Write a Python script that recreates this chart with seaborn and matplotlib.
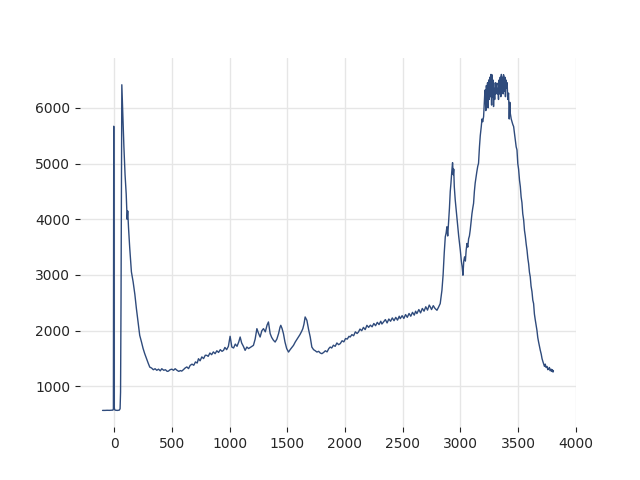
import matplotlib
matplotlib.use("Agg")
import matplotlib.pyplot as plt
import seaborn as sns
import pandas as pd

wavenumber = [
    -100, -80, -60, -40, -20, -10, -6, -3, 1, 6, 15, 30, 45, 52, 56, 60, 67,
    75, 85, 95, 105, 110, 113, 118, 125, 135, 150, 165, 180, 193, 208, 222, 237,
    251, 265, 280, 295, 309, 325, 340, 355, 370, 385, 400, 413, 430, 445, 460,
    471, 485, 500, 515, 529, 545, 560, 575, 586, 600, 615, 630, 645, 659, 675,
    690, 705, 720, 731, 745, 760, 775, 790, 803, 815, 830, 845, 860, 875, 890,
    905, 920, 935, 948, 960, 975, 990, 1005, 1020, 1035, 1050, 1065, 1080, 1092,
    1105, 1120, 1135, 1150, 1165, 1180, 1195, 1207, 1222, 1237, 1250, 1265, 1280,
    1294, 1310, 1325, 1337, 1352, 1365, 1380, 1395, 1410, 1425, 1437, 1444, 1455,
    1467, 1480, 1495, 1511, 1525, 1540, 1554, 1570, 1585, 1597, 1610, 1625, 1635,
    1645, 1655, 1662, 1670, 1685, 1699, 1713, 1728, 1743, 1757, 1772, 1786, 1800,
    1815, 1830, 1845, 1860, 1872, 1885, 1900, 1915, 1930, 1945, 1959, 1975, 1990,
    2005, 2020, 2035, 2045, 2060, 2075, 2090, 2105, 2117, 2130, 2145, 2160, 2175,
    2190, 2205, 2220, 2235, 2250, 2265, 2280, 2295, 2310, 2320, 2334, 2350, 2365,
    2380, 2395, 2410, 2425, 2440, 2455, 2470, 2479, 2495, 2510, 2525, 2540, 2555,
    2570, 2585, 2600, 2612, 2623, 2640, 2655, 2670, 2685, 2700, 2715, 2730, 2739,
    2750, 2765, 2780, 2797, 2810, 2825, 2832, 2840, 2850, 2860, 2869, 2876, 2883,
    2890, 2897, 2905, 2912, 2918, 2925, 2932, 2938, 2942, 2947, 2955, 2962, 2970,
    2978, 2985, 2992, 2999, 3008, 3015, 3022, 3029, 3036, 3043, 3050, 3057, 3064,
    3071, 3078, 3085, 3092, 3100, 3107, 3114, 3121, 3128, 3135, 3142, 3150, 3157,
    3165, 3172, 3180, 3187, 3193, 3201, 3207, 3212, 3216, 3220, 3225, 3230, 3235,
    3240, 3245, 3250, 3255, 3260, 3265, 3270, 3273, 3278, 3282, 3287, 3292, 3297,
    3302, 3307, 3312, 3316, 3320, 3325, 3330, 3335, 3340, 3345, 3350, 3355, 3360,
    3365, 3370, 3374, 3380, 3385, 3390, 3395, 3400, 3405, 3410, 3417, 3423, 3428,
    3432, 3440, 3447, 3454, 3461, 3468, 3475, 3483, 3490, 3497, 3504, 3512, 3519,
    3526, 3533, 3540, 3548, 3555, 3562, 3570, 3577, 3584, 3591, 3598, 3605, 3612,
    3620, 3627, 3634, 3641, 3648, 3656, 3663, 3670, 3677, 3685, 3692, 3700, 3707,
    3714, 3721, 3728, 3735, 3742, 3750, 3757, 3764, 3771, 3778, 3785, 3792, 3797,
    3802, 3806,
]

intensity = [
    570, 570, 572, 571, 573, 575, 600, 5670, 620, 578, 572, 570, 575, 600, 900, 2500, 6414,
    5900, 5300, 4800, 4450, 4150, 4000, 4150, 3850, 3500, 3056, 2876, 2650, 2402, 2150, 1917, 1800,
    1683, 1590, 1503, 1420, 1347, 1330, 1300, 1318, 1290, 1310, 1280, 1318, 1290, 1300, 1270,
    1275, 1300, 1310, 1290, 1318, 1290, 1270, 1285, 1275, 1300, 1330, 1350, 1320, 1378, 1400,
    1380, 1440, 1420, 1498, 1460, 1530, 1500, 1560, 1558, 1540, 1600, 1570, 1620, 1588, 1640,
    1610, 1660, 1630, 1648, 1700, 1660, 1720, 1900, 1707, 1690, 1760, 1720, 1800, 1887,
    1780, 1720, 1648, 1707, 1680, 1700, 1720, 1737, 1850, 2037, 1960, 1887, 2000,
    2037, 1980, 2100, 2157, 1948, 1880, 1830, 1797, 1850, 1950, 2060, 2097, 2040,
    1948, 1800, 1680, 1617, 1660, 1700, 1737, 1800, 1850, 1887, 1930, 1990, 2037,
    2120, 2247, 2220, 2187, 2020, 1887, 1707, 1660, 1640, 1617, 1630, 1600, 1588,
    1610, 1640, 1620, 1680, 1707, 1690, 1740, 1720, 1780, 1750, 1768, 1820, 1800,
    1860, 1850, 1900, 1887, 1930, 1910, 1980, 1950, 1977, 2030, 2000, 2060, 2020,
    2097, 2060, 2100, 2070, 2130, 2090, 2150, 2110, 2170, 2120, 2157, 2200, 2140,
    2210, 2170, 2230, 2180, 2240, 2190, 2260, 2217, 2270, 2220, 2290, 2240, 2310,
    2260, 2330, 2280, 2350, 2307, 2380, 2320, 2400, 2350, 2430, 2370, 2460, 2427,
    2380, 2450, 2400, 2367, 2420, 2487, 2600, 2727, 3000, 3400, 3685, 3750, 3865,
    3700, 3926, 4200, 4500, 4646, 4850, 5016, 4800, 4900, 4585, 4350, 4200, 4045,
    3850, 3700, 3580, 3446, 3250, 3150, 2996, 3250, 3326, 3250, 3450, 3566, 3500,
    3650, 3700, 3806, 3950, 4100, 4200, 4286, 4500, 4650, 4750, 4850, 4950, 5005,
    5300, 5500, 5650, 5800, 5750, 5844, 6100, 6300, 6324, 5950, 6400, 6100, 6450,
    6000, 6500, 6150, 6550, 6200, 6600, 6050, 6594, 6200, 6500, 6023, 6350, 6150,
    6450, 6250, 6400, 6444, 6250, 6350, 6150, 6500, 6250, 6550, 6200, 6600, 6300,
    6550, 6250, 6594, 6300, 6550, 6200, 6500, 6350, 6450, 6150, 6264, 5800, 6100,
    5904, 5800, 5750, 5700, 5664, 5550, 5450, 5300, 5245, 5000, 4900, 4700, 4585,
    4400, 4300, 4100, 3986, 3800, 3700, 3550, 3446, 3300, 3200, 3050, 2966, 2800,
    2700, 2550, 2487, 2300, 2200, 2100, 2007, 1880, 1800, 1720, 1648, 1580, 1500,
    1450, 1408, 1360, 1400, 1340, 1360, 1300, 1318, 1340, 1280, 1310, 1270, 1300,
    1258, 1280,
]

df = pd.DataFrame({"wavenumber": wavenumber, "intensity": intensity})

sns.set_style("white")
fig, ax = plt.subplots(figsize=(6.4, 4.8), dpi=100)
sns.lineplot(data=df, x="wavenumber", y="intensity", ax=ax,
             color="#2f4b7c", linewidth=1.0, sort=False)
ax.set_xlabel("")
ax.set_ylabel("")
ax.set_xticks([0, 500, 1000, 1500, 2000, 2500, 3000, 3500, 4000])
ax.set_yticks([1000, 2000, 3000, 4000, 5000, 6000])
ax.grid(True, color="#e6e6e6", linewidth=1.0)
ax.set_axisbelow(True)
for s in ax.spines.values():
    s.set_visible(False)
ax.tick_params(axis="both", which="both", length=3.5, width=0.8, color="#222222",
               bottom=True, left=True, labelsize=10)
fig.savefig("out.png", dpi=100)
